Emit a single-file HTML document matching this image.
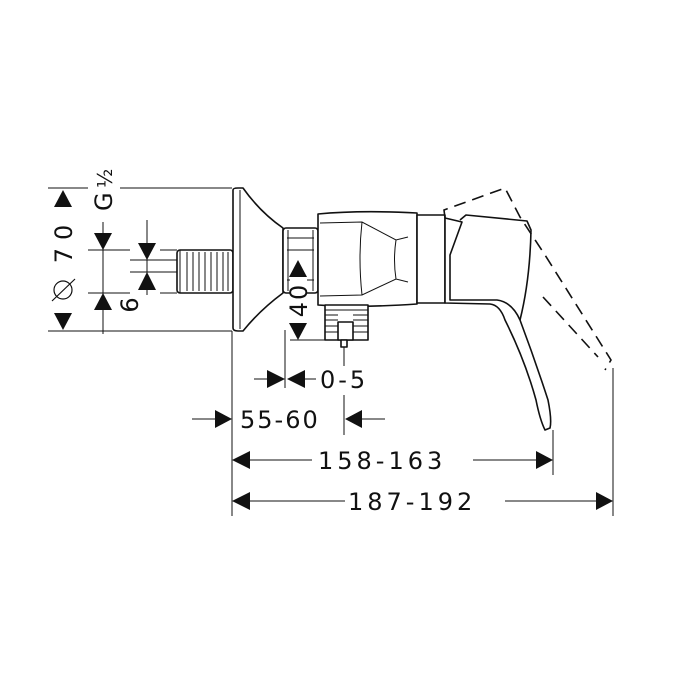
<!DOCTYPE html>
<html><head><meta charset="utf-8"><style>
html,body{margin:0;padding:0;background:#fff;}
svg{display:block;}
text{font-family:"DejaVu Sans","Liberation Sans",sans-serif;fill:#111;}
</style></head><body>
<svg width="680" height="680" viewBox="0 0 680 680" xmlns="http://www.w3.org/2000/svg">
<g stroke="#111" fill="none" stroke-width="1">
<line x1="48" y1="188" x2="88" y2="188"/><line x1="120" y1="188" x2="232" y2="188"/>
<line x1="48" y1="331" x2="232" y2="331"/>
<line x1="103" y1="222" x2="103" y2="334"/>
<line x1="88" y1="250" x2="130" y2="250"/><line x1="88" y1="293" x2="130" y2="293"/>
<line x1="160" y1="250" x2="177" y2="250"/><line x1="160" y1="293" x2="177" y2="293"/>
<line x1="147" y1="220" x2="147" y2="295"/>
<line x1="130" y1="260" x2="177" y2="260"/><line x1="130" y1="272" x2="177" y2="272"/>
<line x1="268" y1="260" x2="316" y2="260"/><line x1="290" y1="340" x2="325" y2="340"/>
<line x1="285" y1="330" x2="285" y2="388"/>
<line x1="232" y1="331" x2="232" y2="516"/>
<line x1="344" y1="347" x2="344" y2="366"/><line x1="344" y1="395" x2="344" y2="435"/>
<line x1="553" y1="430" x2="553" y2="475"/>
<line x1="613" y1="368" x2="613" y2="516"/>
<line x1="254" y1="379" x2="268" y2="379"/><line x1="305" y1="379" x2="316" y2="379"/>
<line x1="192" y1="419" x2="215" y2="419"/><line x1="362" y1="419" x2="385" y2="419"/>
<line x1="250" y1="460" x2="312" y2="460"/><line x1="473" y1="460" x2="536" y2="460"/>
<line x1="250" y1="501" x2="345" y2="501"/><line x1="505" y1="501" x2="596" y2="501"/>
</g>
<g fill="#111">
<polygon points="54,207 72,207 63,190"/><polygon points="54,313 72,313 63,330"/>
<polygon points="94,233 112,233 103,250"/><polygon points="94,310 112,310 103,293"/>
<polygon points="138,243 156,243 147,260"/><polygon points="138,290 156,290 147,272"/>
<polygon points="267,370 267,388 285,379"/><polygon points="305,370 305,388 287,379"/>
<polygon points="215,410 215,428 232,419"/><polygon points="362,410 362,428 345,419"/>
<polygon points="250,451 250,469 232,460"/><polygon points="536,451 536,469 553,460"/>
<polygon points="250,492 250,510 232,501"/><polygon points="596,492 596,510 613,501"/>
</g>
<!-- drawing -->
<g stroke="#111" fill="#fff" stroke-width="1.6" stroke-linejoin="round">
<rect x="177" y="250" width="56" height="43" rx="3"/>
<path d="M233,190 Q233,188 238,188 L243,188 Q260,212 283,228 L283,293 Q260,310 243,331 L238,331 Q233,331 233,328 Z"/>
<rect x="283" y="228" width="35" height="65" rx="3"/>
<path d="M318,214 Q360,210 417,213 L417,304 Q360,308 318,305 Z"/>
<rect x="417" y="215" width="28" height="88"/>
<path d="M445,218 L462,222 L450,255 L450,300 L497,300 Q512,302 520,320 Q535,360 548,400 Q552,420 550,428 L545,430 Q540,420 536,400 Q525,360 505,320 Q500,305 490,304 L445,303 Z"/>
<path d="M460,220 L466,215 L527,221 L531,230 Q530,280 520,320" fill="none"/>
<rect x="325" y="305" width="43" height="35"/>
<rect x="338" y="322" width="15" height="18"/>
<rect x="341" y="340" width="6" height="7"/>
</g>
<g stroke="#111" stroke-width="1" fill="none">
<line x1="180" y1="250" x2="180" y2="293"/><line x1="187" y1="252" x2="187" y2="291"/><line x1="193" y1="252" x2="193" y2="291"/><line x1="199" y1="252" x2="199" y2="291"/><line x1="205" y1="252" x2="205" y2="291"/><line x1="211" y1="252" x2="211" y2="291"/><line x1="217" y1="252" x2="217" y2="291"/><line x1="223" y1="252" x2="223" y2="291"/><line x1="228" y1="252" x2="228" y2="291"/>
<line x1="240" y1="190" x2="240" y2="329"/>
<line x1="287" y1="238" x2="314" y2="238"/><line x1="287" y1="250" x2="314" y2="250"/><line x1="287" y1="280" x2="314" y2="280"/><line x1="288" y1="230" x2="288" y2="291"/><line x1="313" y1="230" x2="313" y2="291"/>
<path d="M320,223 L362,222 L396,240 L408,237 M320,296 L362,295 L396,279 L408,282 M362,222 Q358,258 362,295 M396,240 Q393,260 396,279"/>
<line x1="325" y1="310" x2="368" y2="310"/><line x1="325" y1="315" x2="338" y2="315"/><line x1="353" y1="315" x2="368" y2="315"/><line x1="325" y1="320" x2="338" y2="320"/><line x1="353" y1="320" x2="368" y2="320"/><line x1="325" y1="326" x2="338" y2="326"/><line x1="353" y1="326" x2="368" y2="326"/><line x1="325" y1="332" x2="338" y2="332"/><line x1="353" y1="332" x2="368" y2="332"/>
</g>
<g stroke="#111" stroke-width="1.6" fill="none" stroke-dasharray="12,7">
<path d="M445,218 L444,210 L505,188 L520,217 L545,255 L611,360 L605,370"/>
<path d="M543,297 L598,357"/>
</g>
<!-- 40 label on top of drawing -->
<g fill="#111">
<rect x="290" y="277" width="17" height="46" fill="#fff"/>
<polygon points="289,277 307,277 298,260"/><polygon points="289,323 307,323 298,340"/>
</g>
<text font-size="24" transform="translate(307,300) rotate(-90)" text-anchor="middle" letter-spacing="2">40</text>
<!-- texts -->
<text font-size="24" transform="translate(72,240) rotate(-90)" text-anchor="middle" letter-spacing="8">70</text>
<g stroke="#111" fill="none" stroke-width="1.2"><circle cx="63" cy="290" r="9"/><line x1="52" y1="301" x2="75" y2="279"/></g>
<text font-size="24" transform="translate(112,211) rotate(-90)">G</text>
<text font-size="20" transform="translate(112,188) rotate(-90)">½</text>
<text font-size="24" transform="translate(138,305) rotate(-90)" text-anchor="middle">6</text>
<text x="320" y="388" font-size="24" letter-spacing="3">0-5</text>
<text x="240" y="428" font-size="24" letter-spacing="2">55-60</text>
<text x="318" y="469" font-size="24" letter-spacing="4">158-163</text>
<text x="348" y="510" font-size="24" letter-spacing="4">187-192</text>
</svg>
</body></html>
